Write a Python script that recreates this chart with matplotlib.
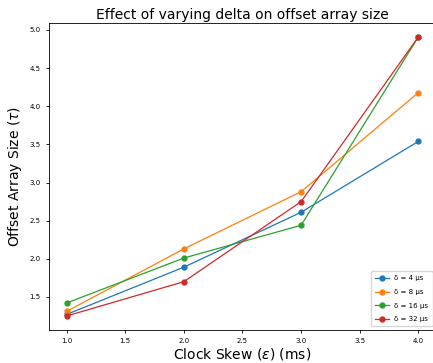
import matplotlib.pyplot as plt

skew = [1.0, 2.0, 3.0, 4.0]
labels = ['δ = 4 μs', 'δ = 8 μs', 'δ = 16 μs', 'δ = 32 μs']
d4 = [1.27, 1.89, 2.61, 3.54]
d8 = [1.31, 2.13, 2.88, 4.18]
d16 = [1.42, 2.01, 2.44, 4.91]
d32 = [1.25, 1.70, 2.75, 4.91]

fig = plt.figure(figsize=(4.33, 3.63), dpi=100)
ax = fig.add_axes([0.113, 0.091, 0.894, 0.846])

for vals, lab in zip([d4, d8, d16, d32], labels):
    ax.plot(skew, vals, marker='o', markersize=3.5, linewidth=0.9, label=lab)

ax.tick_params(labelsize=5, length=2.5, width=0.6)
for s in ax.spines.values():
    s.set_linewidth(0.6)
ax.set_title('Effect of varying delta on offset array size', fontsize=10, pad=3)
ax.set_xlabel('Clock Skew ($\\epsilon$) (ms)', fontsize=10, labelpad=1)
ax.set_ylabel('Offset Array Size ($\\tau$)', fontsize=10, labelpad=4)
ax.legend(loc='lower right', fontsize=5, labelspacing=1.1, borderpad=0.6,
          framealpha=0.8)

fig.savefig('out.png', dpi=100)
